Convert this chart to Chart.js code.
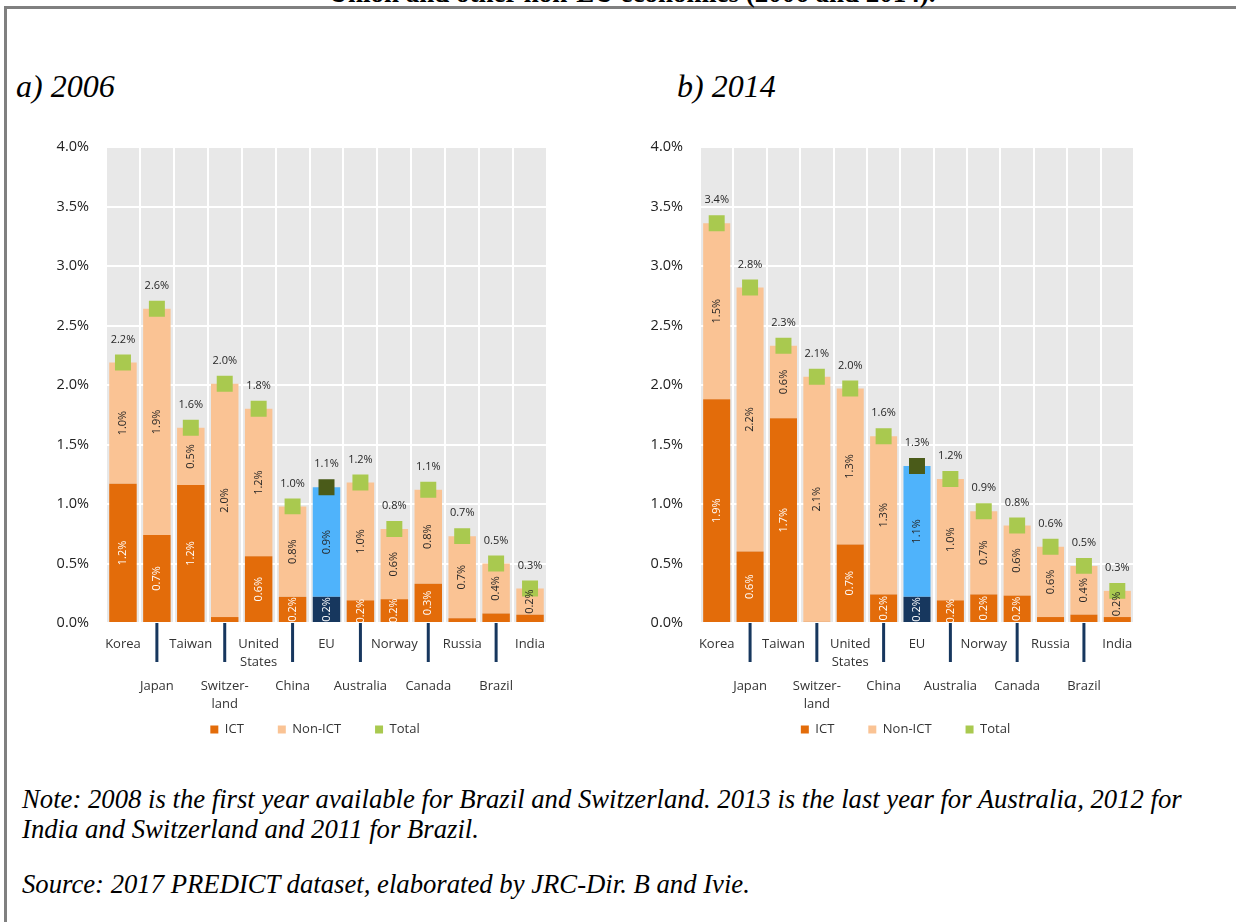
<!DOCTYPE html>
<html>
<head>
<meta charset="utf-8">
<script src="https://cdn.jsdelivr.net/npm/chart.js@4.4.1/dist/chart.umd.min.js"></script>
<style>
  body { margin: 0; background: #fff; width: 1236px; height: 922px; overflow: hidden; position: relative;
         font-family: "Liberation Serif", "Times New Roman", serif; }
  .frame { position: absolute; left: 4px; top: 6px; width: 1300px; height: 1000px;
           border-top: 3px solid #808080; border-left: 3px solid #808080; }
  .title { position: absolute; left: 0; width: 1264px; top: -20px; text-align: center;
           font-weight: bold; font-size: 27px; line-height: 27px; }
  .head { position: absolute; top: 70px; font-style: italic; font-size: 32px; line-height: 32px; }
  .note { position: absolute; left: 22px; font-style: italic; font-size: 26.7px; line-height: 30px; }
  canvas { position: absolute; }
</style>
</head>
<body>
<div class="frame"></div>
<div class="title">Union and other non-EU economies (2006 and 2014).</div>
<div class="head" style="left:16px">a) 2006</div>
<div class="head" style="left:677px">b) 2014</div>
<div class="note" style="top:784px">Note: 2008 is the first year available for Brazil and Switzerland. 2013 is the last year for Australia, 2012 for<br>India and Switzerland and 2011 for Brazil.</div>
<div class="note" style="top:869px">Source: 2017 PREDICT dataset, elaborated by JRC-Dir. B and Ivie.</div>

<canvas id="chart2006" width="530" height="626" style="left:30px;top:120px"></canvas>
<canvas id="chart2014" width="530" height="626" style="left:620px;top:120px"></canvas>

<script>
// categories (two-line names are arrays)
const categories = ['Korea', 'Japan', 'Taiwan', ['Switzer-', 'land'], ['United', 'States'], 'China', 'EU',
                    'Australia', 'Norway', 'Canada', 'Russia', 'Brazil', 'India'];
const seriesNames = ['ICT', 'Non-ICT', 'Total'];

// contributions, percentage points
const ict2006    = [1.17, 0.74, 1.16, 0.05, 0.56, 0.22, 0.22, 0.19, 0.20, 0.33, 0.04, 0.08, 0.07];
const nonIct2006 = [1.02, 1.90, 0.48, 1.96, 1.24, 0.76, 0.92, 0.99, 0.59, 0.79, 0.69, 0.42, 0.22];
const total2006  = [2.19, 2.64, 1.64, 2.01, 1.80, 0.98, 1.14, 1.18, 0.79, 1.12, 0.73, 0.50, 0.29];

const ict2014    = [1.88, 0.60, 1.72, 0.01, 0.66, 0.24, 0.22, 0.19, 0.24, 0.23, 0.05, 0.07, 0.05];
const nonIct2014 = [1.48, 2.22, 0.61, 2.06, 1.31, 1.33, 1.10, 1.02, 0.70, 0.59, 0.59, 0.41, 0.22];
const total2014  = [3.36, 2.82, 2.33, 2.07, 1.97, 1.57, 1.32, 1.21, 0.94, 0.82, 0.64, 0.48, 0.27];

const yMax = 4;
const yStep = 0.5;

const EU = categories.indexOf('EU');
const FONT = '"Open Sans", "Liberation Sans", sans-serif';
const colors = {
  ict: '#e36c0a', nonIct: '#fac394', total: '#a9c94f',
  euIct: '#17375e', euNonIct: '#4fb3fb', euTotal: '#4a5b19',
  navy: '#17375e', text: '#262626'
};

const areaBg = {
  id: 'areaBg',
  beforeDraw(chart) {
    const a = chart.chartArea, ctx = chart.ctx;
    ctx.save();
    ctx.fillStyle = '#e8e8e8';
    ctx.fillRect(a.left, a.top, a.right - a.left, a.bottom - a.top);
    ctx.restore();
  }
};

// legend in the original is centred a bit left of the plot centre
const legendShift = {
  id: 'legendShift',
  afterLayout(chart) {
    chart.legend.left = chart.chartArea.left - 23;
  }
};

const valueLabels = {
  id: 'valueLabels',
  afterDatasetsDraw(chart) {
    const ctx = chart.ctx;
    ctx.save();
    ctx.font = '11px ' + FONT;
    ctx.textAlign = 'center';
    ctx.textBaseline = 'middle';
    chart.data.datasets.forEach((ds, di) => {
      const meta = chart.getDatasetMeta(di);
      meta.data.forEach((el, i) => {
        const v = ds.data[i];
        const txt = v.toFixed(1) + '%';
        if (ds.type === 'line') {
          ctx.fillStyle = colors.text;
          ctx.fillText(txt, el.x, el.y - 23);
          return;
        }
        if (v < 0.15) return;
        ctx.save();
        ctx.translate(el.x, (el.y + el.base) / 2);
        ctx.rotate(-Math.PI / 2);
        ctx.fillStyle = di === 0 ? '#ffffff' : colors.text;
        ctx.fillText(txt, 0, 0);
        ctx.restore();
      });
    });
    ctx.restore();
  }
};

const categoryLabels = {
  id: 'categoryLabels',
  afterDraw(chart) {
    const ctx = chart.ctx, x = chart.scales.x, bottom = chart.chartArea.bottom;
    ctx.save();
    ctx.font = '13px ' + FONT;
    ctx.textAlign = 'center';
    ctx.textBaseline = 'middle';
    categories.forEach((c, i) => {
      const px = x.getPixelForValue(i);
      const lines = Array.isArray(c) ? c : [c];
      const y0 = bottom + (i % 2 === 0 ? 21 : 63);
      ctx.fillStyle = '#333333';
      lines.forEach((t, k) => ctx.fillText(t, px, y0 + k * 18));
      if (i % 2 === 1) {
        ctx.fillStyle = colors.navy;
        ctx.fillRect(px - 1.5, bottom, 3, 39);
      }
    });
    ctx.restore();
  }
};

function makeChart(id, ict, nonIct, total, axisWidth, padRight) {
  return new Chart(document.getElementById(id), {
    data: {
      labels: categories,
      datasets: [
        {
          type: 'bar', label: seriesNames[0], data: ict, order: 1, stack: 'bars',
          backgroundColor: c => c.dataIndex === EU ? colors.euIct : colors.ict,
          categoryPercentage: 1, barPercentage: 0.81
        },
        {
          type: 'bar', label: seriesNames[1], data: nonIct, order: 1, stack: 'bars',
          backgroundColor: c => c.dataIndex === EU ? colors.euNonIct : colors.nonIct,
          categoryPercentage: 1, barPercentage: 0.81
        },
        {
          type: 'line', label: seriesNames[2], data: total, order: 0, stack: 'total',
          showLine: false, pointStyle: 'rect', pointRadius: 11.3, pointHoverRadius: 11.3,
          borderWidth: 0, pointBorderWidth: 0,
          backgroundColor: c => c.dataIndex === EU ? colors.euTotal : colors.total
        }
      ]
    },
    options: {
      responsive: false,
      animation: false,
      events: [],
      layout: { padding: { top: 27, right: padRight, left: 0, bottom: 0 } },
      plugins: {
        tooltip: { enabled: false },
        legend: {
          position: 'bottom',
          labels: {
            boxWidth: 8, boxHeight: 8, padding: 34, color: '#333333',
            font: { family: FONT, size: 13 },
            sort: (a, b) => a.datasetIndex - b.datasetIndex
          }
        }
      },
      scales: {
        x: {
          stacked: true,
          offset: true,
          grid: { color: '#ffffff', lineWidth: 2, drawTicks: false, offset: true },
          border: { display: false },
          ticks: { display: false },
          afterFit: s => { s.height = 66; }
        },
        y: {
          stacked: true,
          min: 0, max: yMax,
          grid: { color: '#ffffff', lineWidth: 2, drawTicks: false },
          border: { display: false },
          ticks: {
            stepSize: yStep, padding: 17, color: '#222222',
            font: { family: FONT, size: 14.5 },
            callback: v => v.toFixed(1) + '%'
          },
          afterFit: s => { s.width = axisWidth; }
        }
      }
    },
    plugins: [areaBg, legendShift, valueLabels, categoryLabels]
  });
}

makeChart('chart2006', ict2006, nonIct2006, total2006, 76, 13);
makeChart('chart2014', ict2014, nonIct2014, total2014, 80, 16);
</script>
</body>
</html>
